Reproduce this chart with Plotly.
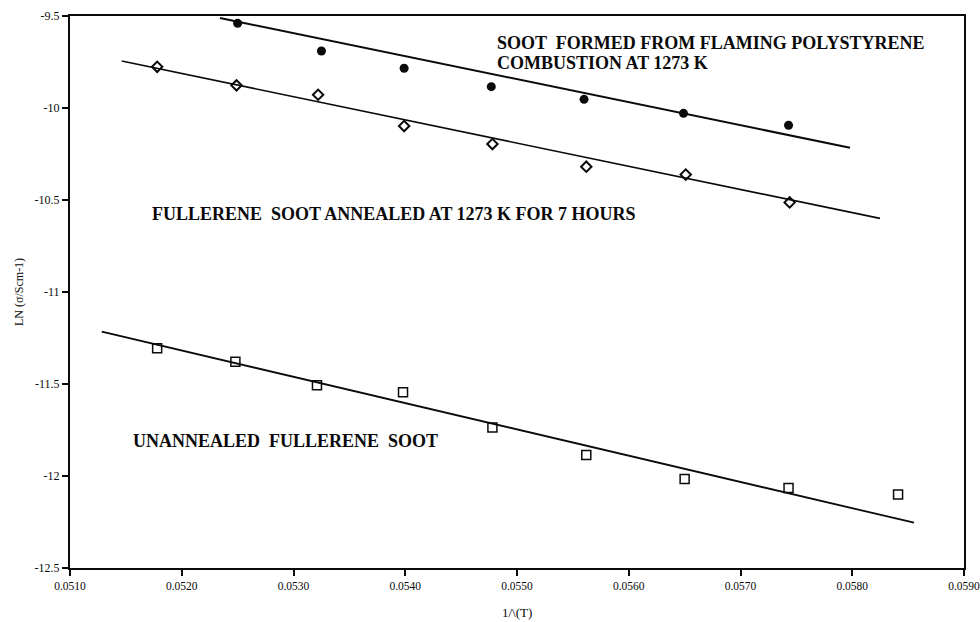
import plotly.graph_objects as go

# Soot formed from flaming polystyrene combustion (filled circles)
ps_x = [0.05250, 0.05325, 0.05399, 0.05477, 0.05560, 0.05649, 0.05743]
ps_y = [-9.540, -9.690, -9.784, -9.884, -9.953, -10.029, -10.094]
ps_fit_x = [0.052342, 0.05798]
ps_fit_y = [-9.511, -10.216]

# Fullerene soot annealed at 1273 K for 7 hours (open diamonds)
an_x = [0.05178, 0.05249, 0.05322, 0.05399, 0.05478, 0.05562, 0.05651, 0.05744]
an_y = [-9.776, -9.877, -9.928, -10.098, -10.196, -10.319, -10.362, -10.513]
an_fit_x = [0.051463, 0.058248]
an_fit_y = [-9.745, -10.600]

# Unannealed fullerene soot (open squares)
un_x = [0.05178, 0.05248, 0.05321, 0.05398, 0.05478, 0.05562, 0.05650, 0.05743, 0.05841]
un_y = [-11.306, -11.379, -11.507, -11.545, -11.737, -11.886, -12.016, -12.065, -12.101]
un_fit_x = [0.051284, 0.058553]
un_fit_y = [-11.216, -12.254]

x_ticks = [0.0510, 0.0520, 0.0530, 0.0540, 0.0550, 0.0560, 0.0570, 0.0580, 0.0590]
x_tick_labels = ["0.0510", "0.0520", "0.0530", "0.0540", "0.0550", "0.0560", "0.0570", "0.0580", "0.0590"]
y_ticks = [-9.5, -10, -10.5, -11, -11.5, -12, -12.5]
y_tick_labels = ["-9.5", "-10", "-10.5", "-11", "-11.5", "-12", "-12.5"]

labels = [
    ("SOOT  FORMED FROM FLAMING POLYSTYRENE", 0.054803, -9.647),
    ("COMBUSTION AT 1273 K", 0.054803, -9.755),
    ("FULLERENE  SOOT ANNEALED AT 1273 K FOR 7 HOURS", 0.051713, -10.576),
    ("UNANNEALED  FULLERENE  SOOT", 0.051546, -11.810),
]

FONT = "Liberation Serif, Times New Roman, serif"
INK = "#0a0a0a"

fig = go.Figure()

fig.add_trace(go.Scatter(x=ps_fit_x, y=ps_fit_y, mode="lines",
                         line=dict(color=INK, width=2), showlegend=False))
fig.add_trace(go.Scatter(x=an_fit_x, y=an_fit_y, mode="lines",
                         line=dict(color=INK, width=1.6), showlegend=False))
fig.add_trace(go.Scatter(x=un_fit_x, y=un_fit_y, mode="lines",
                         line=dict(color=INK, width=1.8), showlegend=False))

fig.add_trace(go.Scatter(x=ps_x, y=ps_y, mode="markers",
                         marker=dict(symbol="circle", size=9, color=INK,
                                     line=dict(color=INK, width=0)),
                         showlegend=False))
fig.add_trace(go.Scatter(x=an_x, y=an_y, mode="markers",
                         marker=dict(symbol="diamond-open", size=8, color=INK,
                                     line=dict(color=INK, width=2)),
                         showlegend=False))
fig.add_trace(go.Scatter(x=un_x, y=un_y, mode="markers",
                         marker=dict(symbol="square-open", size=9, color=INK,
                                     line=dict(color=INK, width=1.5)),
                         showlegend=False))

for text, lx, ly in labels:
    fig.add_annotation(x=lx, y=ly, text=text, showarrow=False,
                       xanchor="left", yanchor="middle", align="left",
                       font=dict(family=FONT, size=18, color=INK, weight="bold"))

# axis titles
fig.add_annotation(xref="paper", yref="paper", x=0.5, y=0, text="1/\\(T)",
                   showarrow=False, xanchor="center", yanchor="middle", yshift=-44,
                   font=dict(family=FONT, size=13, color=INK))
fig.add_annotation(xref="paper", yref="paper", x=0, y=0.5, text="LN (σ/Scm-1)",
                   showarrow=False, xanchor="center", yanchor="middle", xshift=-51,
                   textangle=-90, font=dict(family=FONT, size=12, color=INK))

fig.update_layout(
    width=980, height=622,
    margin=dict(l=70, r=16, t=16, b=54, autoexpand=False),
    paper_bgcolor="white", plot_bgcolor="white",
    font=dict(family=FONT, size=12, color=INK),
    hovermode=False,
    xaxis=dict(range=[0.0510, 0.0590], tickvals=x_ticks, ticktext=x_tick_labels,
               automargin=False, ticklabeloverflow="allow",
               showgrid=False, zeroline=False, showline=True, linecolor=INK,
               linewidth=1.6, mirror=True, ticks="outside", ticklen=6,
               tickwidth=1.5, tickcolor=INK,
               tickfont=dict(family=FONT, size=11.5, color=INK)),
    yaxis=dict(range=[-12.5, -9.5], tickvals=y_ticks, ticktext=y_tick_labels,
               automargin=False, ticklabeloverflow="allow",
               showgrid=False, zeroline=False, showline=True, linecolor=INK,
               linewidth=2, mirror=True, ticks="outside", ticklen=6,
               tickwidth=1.5, tickcolor=INK,
               tickfont=dict(family=FONT, size=12, color=INK)),
)

# Remove the default page margin so the figure fills the 980x622 window exactly.
fig.write_html("out.html",
               config={"displayModeBar": False},
               post_script="document.body.style.margin='0';document.body.style.overflow='hidden';")
